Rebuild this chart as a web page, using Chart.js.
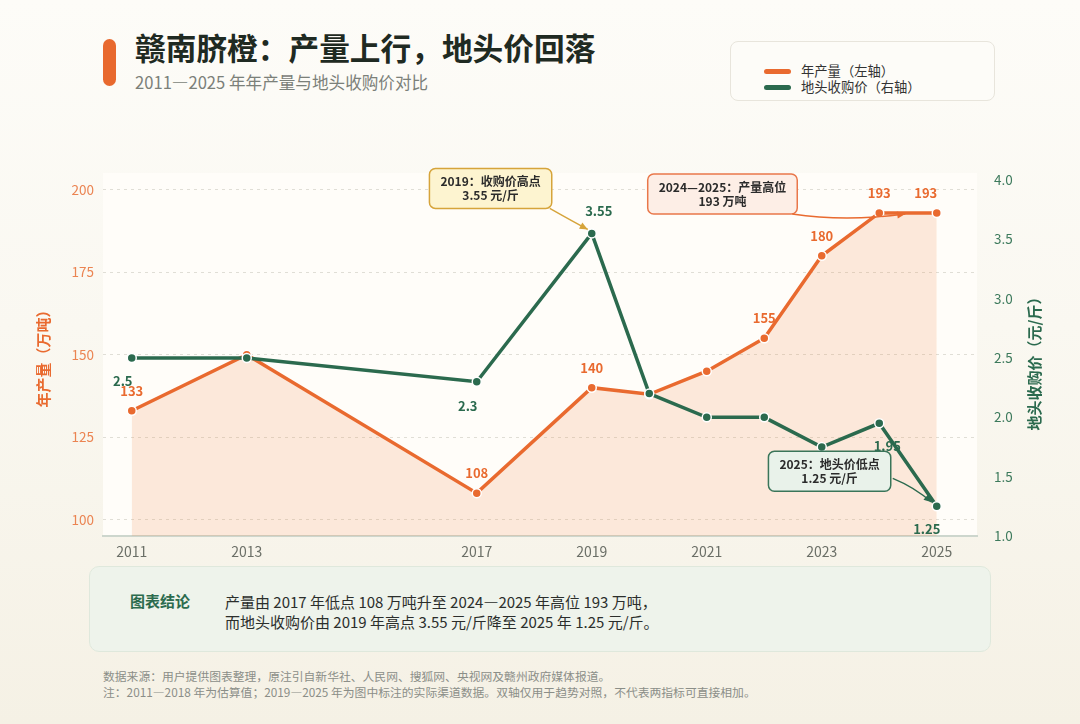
<!DOCTYPE html>
<html lang="zh-CN">
<head>
<meta charset="utf-8">
<title>赣南脐橙：产量上行，地头价回落</title>
<script src="https://cdn.jsdelivr.net/npm/chart.js@4.4.1/dist/chart.umd.min.js"></script>
<style>
  html, body { margin: 0; padding: 0; }
  body {
    width: 1080px; height: 724px; position: relative; overflow: hidden;
    font-family: "Noto Sans CJK SC", "Noto Sans", sans-serif;
    background: linear-gradient(180deg, #fdfcf8 0%, #faf8f1 45%, #f5f1e5 100%);
  }
  .bar { position: absolute; left: 103px; top: 39px; width: 13px; height: 47px; border-radius: 7px; background: #e8692e; }
  .title { position: absolute; left: 135px; top: 27px; font-size: 30.7px; font-weight: 700; color: #1f2a22; line-height: 40px; white-space: nowrap; }
  .subtitle { position: absolute; left: 135px; top: 71px; font-size: 16.6px; color: #7b8079; line-height: 22px; white-space: nowrap; }
  .legend { position: absolute; left: 730px; top: 41px; width: 263px; height: 58px; border: 1px solid #e8e5dc; border-radius: 8px; background: #fdfcf8; }
  .legend .item { position: absolute; left: 33px; height: 16px; font-size: 13.3px; color: #333; line-height: 16px; display: flex; align-items: center; white-space: nowrap; }
  .legend .sw { width: 27px; height: 5px; border-radius: 3px; margin-right: 10px; }
  #wrap { position: absolute; left: 0; top: 150px; width: 1080px; height: 430px; }
  .concl { position: absolute; left: 89px; top: 566px; width: 900px; height: 84px; border: 1px solid #dfe8dc; border-radius: 10px; background: #eef3eb; }
  .concl .lab { position: absolute; left: 40px; top: 24px; font-size: 15px; font-weight: 700; color: #2c6b4e; line-height: 20px; }
  .concl .txt { position: absolute; left: 135px; top: 25px; font-size: 15px; color: #2b2e2b; line-height: 20px; white-space: nowrap; }
  .note { position: absolute; left: 103px; top: 668px; font-size: 11.8px; color: #8b8e88; line-height: 16px; white-space: nowrap; }
</style>
</head>
<body>
<div class="bar"></div>
<div class="title">赣南脐橙：产量上行，地头价回落</div>
<div class="subtitle">2011—2025 年年产量与地头收购价对比</div>
<div class="legend">
  <div class="item" style="top:21px"><span class="sw" style="background:#e96a2f"></span>年产量（左轴）</div>
  <div class="item" style="top:37px"><span class="sw" style="background:#2b6a4e"></span>地头收购价（右轴）</div>
</div>
<div id="wrap"><canvas id="chart"></canvas></div>
<div class="concl">
  <div class="lab">图表结论</div>
  <div class="txt">产量由 2017 年低点 108 万吨升至 2024—2025 年高位 193 万吨，<br>而地头收购价由 2019 年高点 3.55 元/斤降至 2025 年 1.25 元/斤。</div>
</div>
<div class="note">数据来源：用户提供图表整理，原注引自新华社、人民网、搜狐网、央视网及赣州政府媒体报道。<br>注：2011—2018 年为估算值；2019—2025 年为图中标注的实际渠道数据。双轴仅用于趋势对照，不代表两指标可直接相加。</div>

<script>
// 数据
const years = [2011, 2013, 2017, 2019, 2020, 2021, 2022, 2023, 2024, 2025];
const production = [133, 150, 108, 140, 138, 145, 155, 180, 193, 193];   // 万吨
const price = [2.5, 2.5, 2.3, 3.55, 2.2, 2.0, 2.0, 1.75, 1.95, 1.25];    // 元/斤
const xTicks = [2011, 2013, 2017, 2019, 2021, 2023, 2025];
const leftTicks = [100, 125, 150, 175, 200];
const rightTicks = [1.0, 1.5, 2.0, 2.5, 3.0, 3.5, 4.0];
const productionLabelYears = [2011, 2017, 2019, 2022, 2023, 2024, 2025];
const priceLabelYears = [2011, 2017, 2019, 2024, 2025];

const colors = {
    orange: '#e96a2f',
    green: '#2b6a4e',
    orangeTick: '#eb8452',
    greenTick: '#3d7a5c',
    text: '#2b2b2b'
};
const FONT = '"Noto Sans CJK SC", "Noto Sans", sans-serif';

// 标签偏移（像素）
const productionLabelOffset = { 2025: [-11, -20] };
const priceLabelOffset = {
    2011: [-9, 23], 2017: [-9, 24], 2019: [7, -22], 2024: [8, 23], 2025: [-10, 23]
};

function drawArrow(ctx, x0, y0, cx, cy, x1, y1, color) {
    ctx.save();
    ctx.strokeStyle = color;
    ctx.fillStyle = color;
    ctx.lineWidth = 1.4;
    ctx.beginPath();
    ctx.moveTo(x0, y0);
    ctx.quadraticCurveTo(cx, cy, x1, y1);
    ctx.stroke();
    const a = Math.atan2(y1 - cy, x1 - cx);
    ctx.beginPath();
    ctx.moveTo(x1, y1);
    ctx.lineTo(x1 - 8 * Math.cos(a) + 3.5 * Math.sin(a), y1 - 8 * Math.sin(a) - 3.5 * Math.cos(a));
    ctx.lineTo(x1 - 8 * Math.cos(a) - 3.5 * Math.sin(a), y1 - 8 * Math.sin(a) + 3.5 * Math.cos(a));
    ctx.closePath();
    ctx.fill();
    ctx.restore();
}

function drawBox(ctx, right, top, lines, fill, stroke) {
    ctx.save();
    ctx.font = 'bold 12px ' + FONT;
    const w = Math.max(...lines.map(t => ctx.measureText(t).width)) + 22;
    const h = 40;
    const left = right - w;
    ctx.beginPath();
    ctx.roundRect(left, top, w, h, 6);
    ctx.fillStyle = fill;
    ctx.fill();
    ctx.lineWidth = 1.5;
    ctx.strokeStyle = stroke;
    ctx.stroke();
    ctx.fillStyle = colors.text;
    ctx.textAlign = 'center';
    ctx.textBaseline = 'middle';
    lines.forEach((t, i) => ctx.fillText(t, left + w / 2, top + 13 + i * 14));
    ctx.restore();
    return { left, top, w, h };
}

const decorPlugin = {
    id: 'decor',
    beforeDraw(chart) {
        const { ctx, chartArea: a } = chart;
        ctx.save();
        ctx.fillStyle = '#fffdf9';
        ctx.fillRect(a.left, a.top - 7, a.right - a.left, a.bottom - a.top + 7);
        ctx.restore();
    },
    afterDatasetsDraw(chart) {
        const { ctx, scales } = chart;
        const px = v => scales.x.getPixelForValue(v);

        // 数值标签
        ctx.save();
        ctx.font = 'bold 13px ' + FONT;
        ctx.textAlign = 'center';
        ctx.textBaseline = 'middle';
        ctx.fillStyle = colors.orange;
        productionLabelYears.forEach(yr => {
            const v = production[years.indexOf(yr)];
            const off = productionLabelOffset[yr] || [0, -20];
            ctx.fillText(String(v), px(yr) + off[0], scales.y.getPixelForValue(v) + off[1]);
        });
        ctx.fillStyle = colors.green;
        priceLabelYears.forEach(yr => {
            const v = price[years.indexOf(yr)];
            const off = priceLabelOffset[yr];
            ctx.fillText(String(v), px(yr) + off[0], scales.y1.getPixelForValue(v) + off[1]);
        });
        ctx.restore();

        // 注释框
        const hiX = px(2019), hiY = scales.y1.getPixelForValue(3.55);
        const b1 = drawBox(ctx, hiX - 40, hiY - 65, ['2019：收购价高点', '3.55 元/斤'], '#fdf4d0', '#d6a43a');
        drawArrow(ctx, b1.left + b1.w - 2, b1.top + b1.h, (b1.left + b1.w + hiX) / 2, (b1.top + b1.h + hiY) / 2, hiX - 4, hiY - 4, '#d6a43a');

        const topX = px(2024), topY = scales.y.getPixelForValue(193);
        const b2 = drawBox(ctx, topX - 82, topY - 39, ['2024—2025：产量高位', '193 万吨'], '#fdeee6', '#e9774a');
        drawArrow(ctx, b2.left + b2.w - 5, b2.top + b2.h, topX - 34, topY + 9, topX + 26, topY + 1, colors.orange);

        const loX = px(2025), loY = scales.y1.getPixelForValue(1.25);
        const b3 = drawBox(ctx, loX - 46, loY - 55, ['2025：地头价低点', '1.25 元/斤'], '#e9f2ea', '#3a7559');
        drawArrow(ctx, b3.left + b3.w + 2, loY - 28, loX - 22, loY - 19, loX - 5, loY - 4, colors.green);
    },
    afterDraw(chart) {
        const { ctx, chartArea: a } = chart;
        ctx.save();
        ctx.font = 'bold 15px ' + FONT;
        ctx.textAlign = 'center';
        ctx.textBaseline = 'middle';
        const midY = (a.top + a.bottom) / 2;
        ctx.fillStyle = colors.orange;
        ctx.translate(43, midY - 3);
        ctx.rotate(-Math.PI / 2);
        ctx.fillText('年产量（万吨）', 0, 0);
        ctx.restore();
        ctx.save();
        ctx.font = 'bold 15px ' + FONT;
        ctx.textAlign = 'center';
        ctx.textBaseline = 'middle';
        ctx.fillStyle = colors.green;
        ctx.translate(1034, midY + 2);
        ctx.rotate(-Math.PI / 2);
        ctx.fillText('地头收购价（元/斤）', 0, 0);
        ctx.restore();
    }
};

const ctx = document.getElementById('chart').getContext('2d');
const chart = new Chart(ctx, {
    type: 'line',
    data: {
        datasets: [{
            label: '年产量（左轴）',
            data: years.map((yr, i) => ({ x: yr, y: production[i] })),
            yAxisID: 'y',
            borderColor: colors.orange,
            backgroundColor: 'rgba(240,140,80,0.18)',
            borderWidth: 3.5,
            fill: 'start',
            tension: 0,
            pointRadius: 4.5,
            pointBackgroundColor: colors.orange,
            pointBorderColor: '#ffffff',
            pointBorderWidth: 1.5,
            order: 1
        }, {
            label: '地头收购价（右轴）',
            data: years.map((yr, i) => ({ x: yr, y: price[i] })),
            yAxisID: 'y1',
            borderColor: colors.green,
            backgroundColor: colors.green,
            borderWidth: 3.5,
            fill: false,
            tension: 0,
            pointRadius: 4.5,
            pointBackgroundColor: colors.green,
            pointBorderColor: '#ffffff',
            pointBorderWidth: 1.5,
            order: 0
        }]
    },
    options: {
        responsive: true,
        maintainAspectRatio: false,
        animation: false,
        layout: { padding: { top: 30, left: 0, right: 0, bottom: 0 } },
        plugins: {
            legend: { display: false },
            tooltip: { enabled: false }
        },
        scales: {
            x: {
                type: 'linear',
                min: 2010.5,
                max: 2025.7,
                afterBuildTicks: s => { s.ticks = xTicks.map(v => ({ value: v })); },
                afterFit: s => { s.height = 44; },
                ticks: {
                    color: '#6b6f67',
                    font: { family: FONT, size: 14 },
                    padding: 7,
                    maxRotation: 0,
                    callback: v => String(v)
                },
                grid: { display: false, drawTicks: false },
                border: { color: '#cdd6cd', width: 2 }
            },
            y: {
                position: 'left',
                min: 95,
                max: 203,
                afterBuildTicks: s => { s.ticks = leftTicks.map(v => ({ value: v })); },
                afterFit: s => { s.width = 103; },
                ticks: {
                    color: colors.orangeTick,
                    font: { family: FONT, size: 13.5 },
                    padding: 9
                },
                grid: { color: '#e0ded6', lineWidth: 1, drawTicks: false },
                border: { display: false, dash: [3, 4] }
            },
            y1: {
                position: 'right',
                min: 1,
                max: 4,
                afterBuildTicks: s => { s.ticks = rightTicks.map(v => ({ value: v })); },
                afterFit: s => { s.width = 103; },
                ticks: {
                    color: colors.greenTick,
                    font: { family: FONT, size: 13.5 },
                    padding: 9,
                    callback: v => v.toFixed(1)
                },
                grid: { display: false },
                border: { display: false }
            }
        }
    },
    plugins: [decorPlugin]
});
</script>
</body>
</html>
